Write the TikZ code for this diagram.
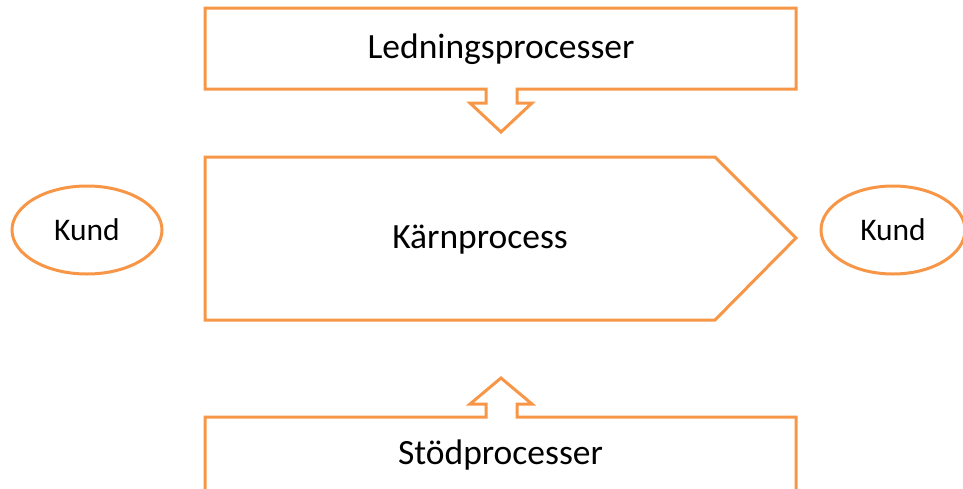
\documentclass[tikz,border=0pt]{standalone}
\usepackage{fontspec}
\setmainfont{Carlito}
\usetikzlibrary{shapes.geometric}
\definecolor{accent}{HTML}{F79646}
\begin{document}
\begin{tikzpicture}[x=1pt,y=-1pt,
  outline/.style={draw=accent,line width=3pt,line join=miter},
  bigtext/.style={font=\fontsize{35.5}{40}\selectfont,text=black},
  smalltext/.style={font=\fontsize{31.5}{36}\selectfont,text=black},
  customer/.style={ellipse,draw=accent,line width=3pt,minimum width=150pt,minimum height=88pt,inner sep=0pt}]
\useasboundingbox (0,0) rectangle (963,488);
\clip (0,0) rectangle (963,488);
% top box with down arrow
\draw[outline] (205,8) -- (796,8) -- (796,89) -- (517,89) -- (517,103) -- (532,103)
  -- (501,132) -- (470,103) -- (486,103) -- (486,89) -- (205,89) -- cycle;
\node[bigtext] (lead) at (501,49) {Ledningsprocesser};
% core process pentagon
\draw[outline] (205,157) -- (715,157) -- (796,238) -- (715,320) -- (205,320) -- cycle;
\node[bigtext] (core) at (480,240) {Kärnprocess};
% bottom box with up arrow
\draw[outline] (205,500) -- (205,417) -- (486,417) -- (486,404) -- (470,404) -- (501,378)
  -- (532,404) -- (517,404) -- (517,417) -- (796,417) -- (796,500);
\node[bigtext] (supp) at (500.5,455) {Stödprocesser};
% customers
\node[customer,smalltext] (kin) at (87,230) {Kund};
\node[customer,smalltext,minimum width=144pt] (kout) at (893,230) {Kund};
\end{tikzpicture}
\end{document}
